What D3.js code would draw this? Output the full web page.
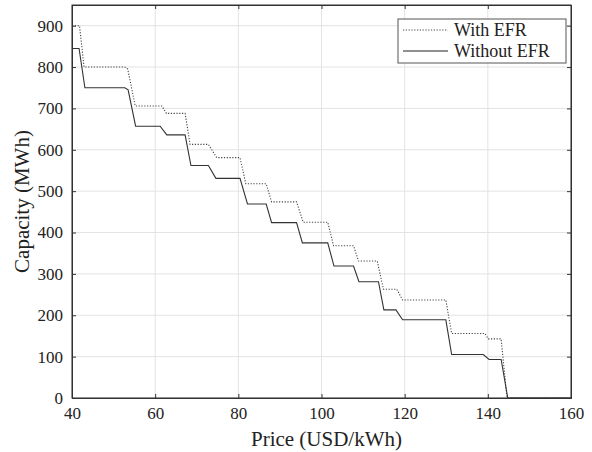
<!DOCTYPE html>
<html><head><meta charset="utf-8">
<script src="https://cdn.jsdelivr.net/npm/d3@7"></script>
<style>body{margin:0;background:#fff}svg{display:block}svg text{font-family:"Times New Roman","Liberation Serif",Times,"DejaVu Serif",serif !important;fill:#222}</style>
</head><body>
<svg id="c" width="592" height="452"></svg>
<script>
const xTicks = [40, 60, 80, 100, 120, 140, 160];
const yTicks = [0, 100, 200, 300, 400, 500, 600, 700, 800, 900];
const seriesNames = ["With EFR", "Without EFR"];
const withEFRPrice = [40, 41.8, 42.9, 52.7, 53.4, 55.2, 61.6, 62.7, 67.2, 68.4, 72.8, 74.8, 80.4, 81.8, 86.7, 88.0, 94.0, 95.6, 101.5, 102.9, 107.7, 108.9, 113.4, 114.9, 118.1, 119.5, 129.9, 131.3, 139.3, 140.1, 143.2, 144.6, 160];
const withEFRCap   = [900, 900, 800, 800, 795, 706, 706, 688, 688, 613, 613, 581, 581, 518, 518, 474, 474, 425, 425, 368, 368, 331, 331, 263, 263, 237, 237, 156, 156, 143, 143, 0, 0];
const withoutEFRPrice = [40, 41.7, 43.1, 52.7, 53.5, 55.3, 61.2, 62.8, 67.2, 68.6, 72.8, 74.6, 80.4, 82.2, 86.7, 88.0, 94.0, 95.4, 101.5, 103.0, 107.7, 109.0, 113.7, 115.0, 117.9, 119.5, 129.9, 131.3, 138.9, 140.3, 143.2, 144.8, 160];
const withoutEFRCap   = [845, 845, 750, 750, 745, 657, 657, 636, 636, 562, 562, 531, 531, 469, 469, 424, 424, 375, 375, 319, 319, 281, 281, 213, 213, 189, 189, 105, 105, 93, 93, 0, 0];

(function () {
const L = 72, R = 571, T = 5, B = 398;
const svg = d3.select("#c");
const x = d3.scaleLinear().domain([40, 160]).range([L, R]);
const y = d3.scaleLinear().domain([0, 950]).range([B, T]);

// grid
const g = svg.append("g");
g.selectAll(".vx").data(xTicks).join("line")
  .attr("x1", d => x(d)).attr("x2", d => x(d)).attr("y1", T).attr("y2", B)
  .attr("stroke", "#e3e3e3").attr("stroke-width", 1);
g.selectAll(".hy").data(yTicks).join("line")
  .attr("y1", d => y(d)).attr("y2", d => y(d)).attr("x1", L).attr("x2", R)
  .attr("stroke", "#e3e3e3").attr("stroke-width", 1);

// lines
const line = d3.line().x(d => x(d[0])).y(d => y(d[1]));
const d1 = withEFRPrice.map((p, i) => [p, withEFRCap[i]]);
const d2 = withoutEFRPrice.map((p, i) => [p, withoutEFRCap[i]]);
svg.append("path").attr("d", line(d1)).attr("fill", "none")
  .attr("stroke", "#444").attr("stroke-width", 1.1).attr("stroke-dasharray", "1.2,1.6");
svg.append("path").attr("d", line(d2)).attr("fill", "none")
  .attr("stroke", "#333").attr("stroke-width", 1.1);

// axes (box with inward ticks)
const axB = svg.append("g").attr("transform", `translate(0,${B})`)
  .call(d3.axisBottom(x).tickValues(xTicks).tickSize(-4).tickPadding(9).tickFormat(d3.format("d")));
const axT = svg.append("g").attr("transform", `translate(0,${T})`)
  .call(d3.axisTop(x).tickValues(xTicks).tickSize(-4).tickFormat(""));
const axL = svg.append("g").attr("transform", `translate(${L},0)`)
  .call(d3.axisLeft(y).tickValues(yTicks).tickSize(-4).tickPadding(9).tickFormat(d3.format("d")));
const axR = svg.append("g").attr("transform", `translate(${R},0)`)
  .call(d3.axisRight(y).tickValues(yTicks).tickSize(-4).tickFormat(""));
[axB, axT, axL, axR].forEach(a => {
  a.attr("font-family", null);
  a.select(".domain").attr("stroke", "#333");
  a.selectAll(".tick line").attr("stroke", "#333");
  a.selectAll(".tick text").attr("font-size", 17).attr("fill", "#222");
});
svg.append("rect").attr("x", L).attr("y", T).attr("width", R - L).attr("height", B - T)
  .attr("fill", "none").attr("stroke", "#333");

// titles
svg.append("text").attr("x", (L + R) / 2 + 5).attr("y", 446).attr("text-anchor", "middle")
  .attr("font-size", 21).text("Price (USD/kWh)");
svg.append("text").attr("transform", `translate(29,${(T + B) / 2}) rotate(-90)`).attr("text-anchor", "middle")
  .attr("font-size", 21).text("Capacity (MWh)");

// legend
const lg = svg.append("g");
lg.append("rect").attr("x", 398).attr("y", 19).attr("width", 168).attr("height", 44)
  .attr("fill", "#fff").attr("stroke", "#555");
const styles = [{dash: "1.2,1.6", c: "#444"}, {dash: null, c: "#222"}];
seriesNames.forEach((n, i) => {
  const yy = 30 + i * 21;
  lg.append("line").attr("x1", 403).attr("x2", 448).attr("y1", yy).attr("y2", yy)
    .attr("stroke", styles[i].c).attr("stroke-width", 1.1).attr("stroke-dasharray", styles[i].dash);
  lg.append("text").attr("x", 454).attr("y", yy + 6).attr("font-size", 18).text(n);
});
})();
</script>
</body></html>
